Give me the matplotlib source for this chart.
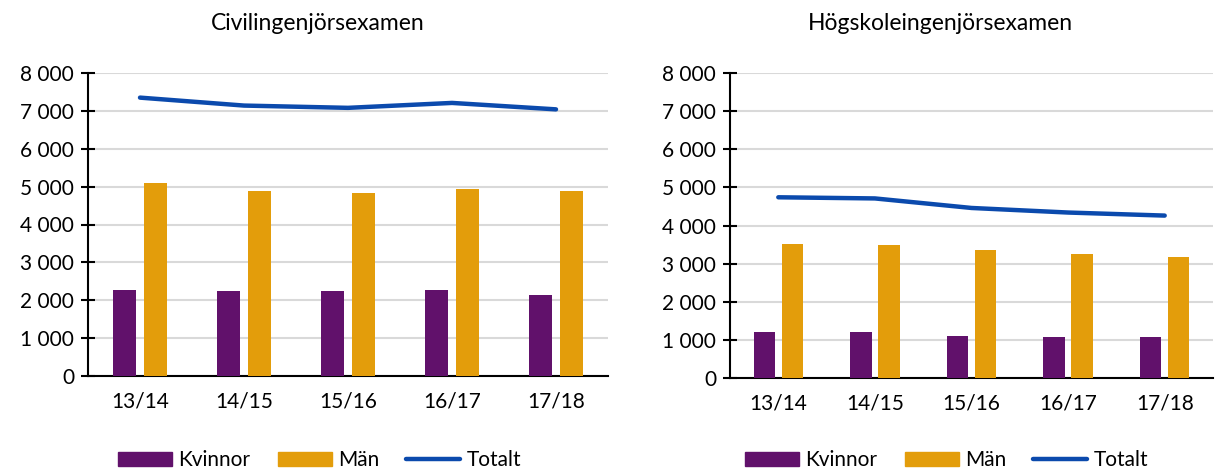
import matplotlib
matplotlib.use("Agg")
import matplotlib.pyplot as plt
import numpy as np
from matplotlib.patches import Patch
from matplotlib.lines import Line2D

plt.rcParams['font.family'] = ['Lato', 'DejaVu Sans']

categories = ["13/14", "14/15", "15/16", "16/17", "17/18"]
yticks = [0, 1000, 2000, 3000, 4000, 5000, 6000, 7000, 8000]
ytick_labels = ["0", "1 000", "2 000", "3 000", "4 000", "5 000", "6 000", "7 000", "8 000"]

civ_title = "Civilingenjörsexamen"
civ_kvinnor = [2260, 2250, 2240, 2280, 2150]
civ_man = [5090, 4890, 4840, 4930, 4880]
civ_totalt = [7350, 7140, 7080, 7210, 7040]

hog_title = "Högskoleingenjörsexamen"
hog_kvinnor = [1210, 1210, 1090, 1070, 1080]
hog_man = [3520, 3480, 3370, 3260, 3170]
hog_totalt = [4740, 4710, 4460, 4340, 4260]

PURPLE = "#61116b"
ORANGE = "#e39d0b"
BLUE = "#0b4aad"
GRID = "#d9d9d9"

W, H = 1216, 470
fig = plt.figure(figsize=(W / 100, H / 100), dpi=100)

def px(x0, y0, x1, y1):
    return [x0 / W, 1 - y1 / H, (x1 - x0) / W, (y1 - y0) / H]

def draw(rect, title, kv, man, tot, title_x, legend_x):
    ax = fig.add_axes(rect)
    x = np.arange(len(categories)) + 0.5
    bw = 0.22
    ax.bar(x - 0.145, kv, width=bw, color=PURPLE, zorder=3)
    ax.bar(x + 0.145, man, width=bw, color=ORANGE, zorder=3)
    ax.plot(x, tot, color=BLUE, lw=3.2, solid_capstyle='round', zorder=4)
    ax.set_xlim(0, len(categories))
    ax.set_ylim(0, 8000)
    ax.set_yticks(yticks)
    ax.set_yticklabels(ytick_labels, fontsize=15)
    ax.set_xticks(x)
    ax.set_xticklabels(categories, fontsize=15)
    ax.tick_params(axis='x', length=0, pad=11)
    ax.tick_params(axis='y', direction='inout', length=10, width=1.5, pad=5)
    ax.grid(axis='y', color=GRID, lw=1.5, zorder=0)
    ax.set_axisbelow(True)
    for s in ['top', 'right']:
        ax.spines[s].set_visible(False)
    for s in ['left', 'bottom']:
        ax.spines[s].set_linewidth(1.5)
        ax.spines[s].set_color('black')
    fig.text(title_x / W, 1 - 24 / H, title, ha='center', va='center', fontsize=16.5)
    handles = [Patch(color=PURPLE, label="Kvinnor"),
               Patch(color=ORANGE, label="Män"),
               Line2D([], [], color=BLUE, lw=3.2, solid_capstyle='round', label="Totalt")]
    fig.legend(handles=handles, ncol=3, loc='center left',
               bbox_to_anchor=(legend_x / W, 1 - 460 / H), frameon=False,
               fontsize=15, handlelength=2.6, handleheight=0.65,
               handletextpad=0.3, columnspacing=1.3, borderpad=0, borderaxespad=0)
    return ax

draw(px(88, 73, 608, 376), civ_title, civ_kvinnor, civ_man, civ_totalt, 318, 118)
draw(px(730, 73, 1213, 378), hog_title, hog_kvinnor, hog_man, hog_totalt, 940, 745)

fig.savefig("out.png", dpi=100)
